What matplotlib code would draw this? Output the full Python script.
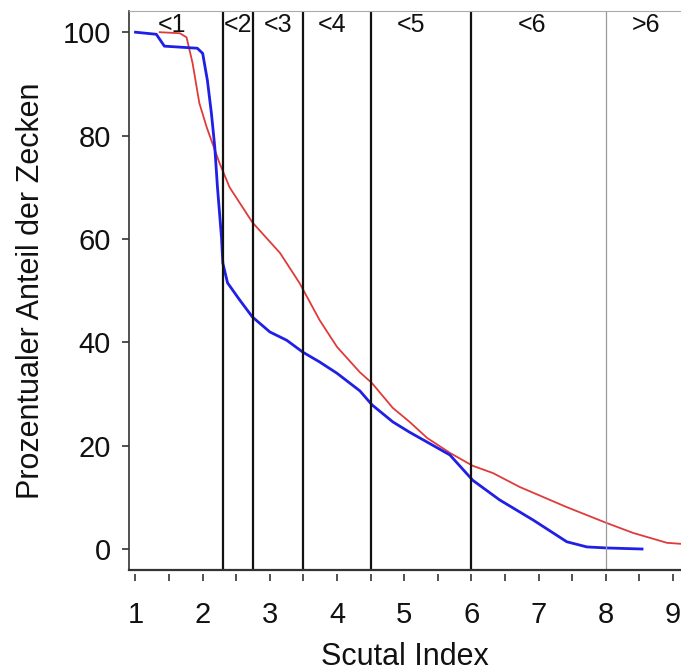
import matplotlib
matplotlib.use("Agg")
import matplotlib.pyplot as plt

plt.rcParams['font.family'] = ['Liberation Sans', 'DejaVu Sans']

# blue curve (cumulative share of ticks, group 1)
blue_x = [1.0, 1.31, 1.43, 1.92, 2.0, 2.07, 2.13, 2.18, 2.22, 2.28, 2.30, 2.37, 2.55,
          2.74, 3.0, 3.25, 3.49, 3.74, 4.0, 4.34, 4.52, 4.83, 5.08, 5.34, 5.68,
          6.02, 6.42, 6.92, 7.42, 7.72, 8.02, 8.54]
blue_y = [100, 99.6, 97.3, 96.9, 95.9, 90.7, 84.3, 77.8, 70.0, 60.3, 55.3, 51.5, 48.2,
          44.9, 42.0, 40.4, 38.1, 36.2, 34.0, 30.6, 27.9, 24.6, 22.6, 20.7, 18.2,
          13.3, 9.5, 5.6, 1.4, 0.4, 0.2, 0]

# red curve (group 2)
red_x = [1.36, 1.66, 1.76, 1.85, 1.95, 2.06, 2.25, 2.40, 2.65, 2.74, 3.15, 3.44,
         3.74, 4.0, 4.34, 4.52, 4.83, 5.08, 5.34, 5.68, 6.02, 6.32, 6.72, 7.42, 8.02,
         8.41, 8.91, 9.12]
red_y = [100, 99.8, 99.0, 94.0, 86.3, 81.6, 74.7, 70.0, 65.0, 63.2, 57.3, 51.5,
         44.3, 39.1, 34.2, 32.1, 27.3, 24.6, 21.5, 18.6, 16.1, 14.7, 12.0, 8.1, 5.0,
         3.1, 1.2, 1.0]

# class borders and labels
borders = [2.3, 2.75, 3.5, 4.5, 6.0]
border_last = 8.0
class_labels = ['<1', '<2', '<3', '<4', '<5', '<6', '>6']
class_pos = [1.54, 2.52, 3.12, 3.92, 5.1, 6.9, 8.6]

fig = plt.figure(figsize=(6.81, 6.72), dpi=100)
ax = fig.add_axes([0.1894, 0.1518, 0.8106, 0.8318])

ax.plot(red_x, red_y, color='#e03a3a', lw=1.3)
ax.plot(blue_x, blue_y, color='#1f1fe6', lw=2.0)

for b in borders:
    ax.axvline(b, color='#111111', lw=1.6)
ax.axvline(border_last, color='#999999', lw=0.9)

for lab, p in zip(class_labels, class_pos):
    ax.text(p, 101.4, lab, ha='center', va='center', fontsize=18, color='#111111')

ax.set_xlim(0.903, 9.12)
ax.set_ylim(-4.06, 104.1)
ax.set_xticks(range(1, 10))
ax.set_xticks([1.5 + i for i in range(8)], minor=True)
ax.set_yticks([0, 20, 40, 60, 80, 100])

ax.spines['right'].set_visible(False)
ax.spines['top'].set_color('#aaaaaa')
ax.spines['left'].set_color('#333333')
ax.spines['left'].set_linewidth(1.2)
ax.spines['bottom'].set_position(('outward', 3))
ax.spines['bottom'].set_visible(False)
ax.plot([0, 1], [0, 0], transform=ax.transAxes, color='#333333', lw=1.6, clip_on=False)

ax.tick_params(axis='both', which='major', labelsize=21, colors='#333333',
               labelcolor='#111111', length=5, width=1.2)
ax.tick_params(axis='x', which='minor', length=5, width=1.2, colors='#333333')
ax.tick_params(axis='x', pad=14)
ax.tick_params(axis='y', pad=8)

ax.set_xlabel('Scutal Index', fontsize=22, color='#111111', labelpad=10)
ax.set_ylabel('Prozentualer Anteil der Zecken', fontsize=22, color='#111111', labelpad=12)

fig.savefig('out.png', dpi=100)
